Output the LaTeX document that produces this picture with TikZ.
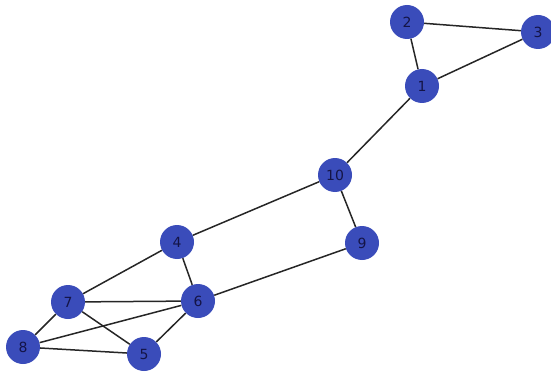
\documentclass[tikz,border=0pt]{standalone}
\usepackage{fontspec}
\setsansfont{DejaVu Sans}
\definecolor{nodeblue}{RGB}{58,76,186}
\definecolor{labelnavy}{RGB}{20,20,70}
\begin{document}
\begin{tikzpicture}[x=1pt,y=-1pt,
  vert/.style={circle,fill=nodeblue,minimum size=34pt,inner sep=0pt,text=labelnavy,font=\sffamily\fontsize{14}{14}\selectfont},
  edge/.style={line width=1.5pt,draw=black!85}]
\useasboundingbox (0,0) rectangle (551,377);
\node[vert] (n2) at (407,22) {2};
\node[vert] (n3) at (538,32) {3};
\node[vert] (n1) at (422,86) {1};
\node[vert] (n10) at (335,175) {10};
\node[vert] (n9) at (362,243) {9};
\node[vert] (n4) at (177,242) {4};
\node[vert] (n6) at (198,301) {6};
\node[vert] (n7) at (68,302) {7};
\node[vert] (n8) at (23,347) {8};
\node[vert] (n5) at (144,354) {5};
\foreach \a/\b in {n2/n3,n2/n1,n1/n3,n1/n10,n10/n4,n10/n9,n9/n6,n4/n6,n4/n7,n7/n6,n7/n8,n7/n5,n8/n6,n8/n5,n5/n6}
  \draw[edge] (\a) -- (\b);
\end{tikzpicture}
\end{document}
